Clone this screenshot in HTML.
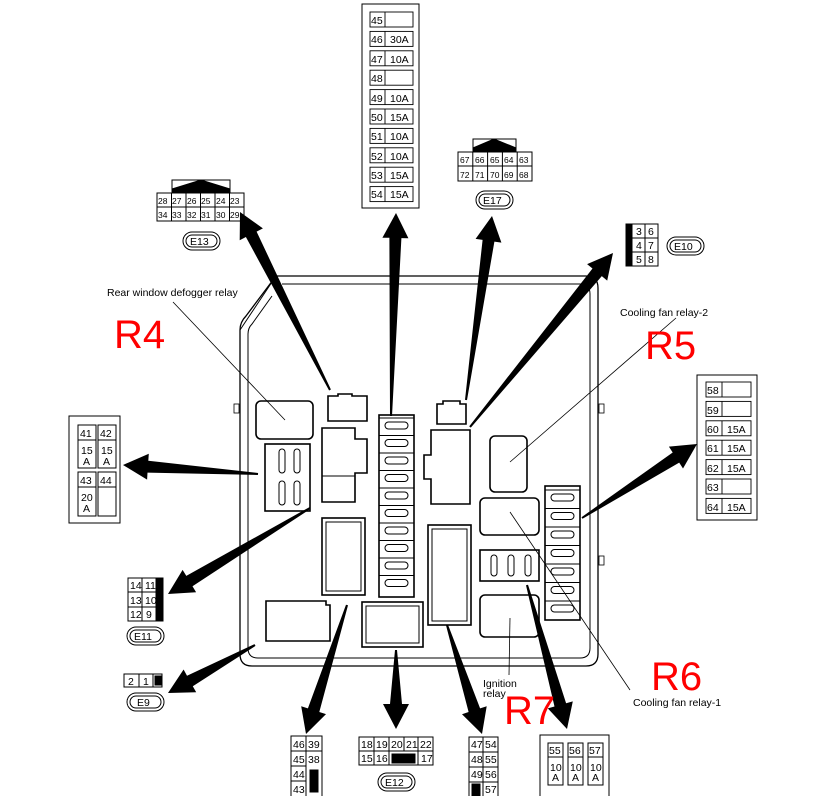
<!DOCTYPE html>
<html><head><meta charset="utf-8"><style>
html,body{margin:0;padding:0;background:#fff}
svg{display:block}
text{font-family:"Liberation Sans",sans-serif;fill:#000}
.s{font-size:10.5px}
.r{font-size:40px;fill:#f00}
</style></head><body>
<svg id="sv" width="817" height="796" viewBox="0 0 817 796" xmlns="http://www.w3.org/2000/svg">
<g fill="none" stroke="#000">
<path d="M276,276 L586,276 Q598,276 598,288 L598,654 Q598,666 586,666 L252,666 Q240,666 240,654 L240,330 Q240,322 246,316 Z" stroke-width="1.3"/>
<path d="M282,284 L580,284 Q590,284 590,294 L590,648 Q590,658 580,658 L258,658 Q248,658 248,648 L248,334 Q248,328 252,324 L272,296" stroke-width="1"/>
<path d="M240,330 L276,276" stroke-width="1"/>
<rect x="234" y="404" width="5" height="9" stroke-width="0.8"/>
<rect x="599" y="404" width="5" height="9" stroke-width="0.8"/>
<rect x="599" y="556" width="5" height="9" stroke-width="0.8"/>
<g stroke-width="1.6">
<rect x="256" y="401" width="57" height="38" rx="5"/>
<path d="M328,396 h10 v-2 h14 v2 h15 v25 h-39 z"/>
<path d="M322,428 h33 v11 h12 v34 h-12 v29 h-33 z"/>
<line x1="322" y1="476" x2="355" y2="476" stroke-width="1"/>
<rect x="265" y="444" width="45" height="67"/>
<rect x="379" y="415" width="35" height="182"/>
<rect x="322" y="518" width="43" height="77"/>
<rect x="326" y="522" width="35" height="69" stroke-width="1"/>
<path d="M266,601 h60 v4 h4 v36 h-64 z"/>
<rect x="362" y="602" width="61" height="45"/>
<rect x="366" y="606" width="53" height="37" stroke-width="1"/>
<path d="M437,404 h6 v-3 h17 v3 h6 v20 h-29 z"/>
<path d="M431,430 h39 v74 h-39 v-25 h-7 v-24 h7 z"/>
<rect x="490" y="436" width="37" height="56" rx="5"/>
<rect x="480" y="498" width="59" height="37" rx="5"/>
<rect x="480" y="550" width="59" height="31"/>
<rect x="480" y="595" width="59" height="42" rx="5"/>
<rect x="545" y="486" width="35" height="134"/>
<rect x="428" y="525" width="43" height="100"/>
<rect x="432" y="529" width="35" height="92" stroke-width="1"/>
</g>
<g stroke-width="1" id="fz"></g>
<g stroke-width="0.8">
<line x1="173" y1="302" x2="285" y2="420"/>
<line x1="676" y1="318" x2="510" y2="462"/>
<line x1="630" y1="690" x2="510" y2="512"/>
<line x1="509" y1="675" x2="510" y2="618"/>
</g>
<rect x="362" y="4" width="57" height="204" stroke-width="1"/>
<g id="tl" stroke-width="0.9"></g>
<rect x="697" y="375" width="60" height="145" stroke-width="1"/>
<g id="rl" stroke-width="0.9"></g>
<rect x="69" y="416" width="51" height="107" stroke-width="1"/>
<rect x="78" y="425" width="18" height="43"/><line x1="78" y1="440" x2="96" y2="440"/>
<rect x="98" y="425" width="18" height="43"/><line x1="98" y1="440" x2="116" y2="440"/>
<rect x="78" y="472" width="18" height="44"/><line x1="78" y1="487" x2="96" y2="487"/>
<rect x="98" y="472" width="18" height="44"/><line x1="98" y1="487" x2="116" y2="487"/>
<path d="M172,192 V180 H230 V192" /><path d="M172,192 L172,189 L201,180 L230,189 L230,192 Z" fill="#000"/>
<rect x="157" y="193" width="87" height="28"/>
<line x1="157" y1="207" x2="244" y2="207"/>
<g id="e13"></g>
<rect x="183" y="232" width="37" height="18" rx="9"/><rect x="186" y="235" width="31" height="12" rx="6"/>
<path d="M473,151 V139 H516 V151"/><path d="M473,151 L473,148 L494,139 L516,148 L516,151 Z" fill="#000"/>
<rect x="458" y="152" width="74" height="29"/>
<line x1="458" y1="166" x2="532" y2="166"/>
<rect x="476" y="191" width="37" height="18" rx="9"/><rect x="479" y="194" width="31" height="12" rx="6"/>
<rect x="626" y="224" width="32" height="42"/>
<rect x="626" y="224" width="6" height="42" fill="#000"/>
<line x1="645" y1="224" x2="645" y2="266"/><line x1="632" y1="238" x2="658" y2="238"/><line x1="632" y1="252" x2="658" y2="252"/>
<rect x="667" y="237" width="37" height="18" rx="9"/><rect x="670" y="240" width="31" height="12" rx="6"/>
<rect x="128" y="578" width="35" height="43"/>
<rect x="156" y="578" width="7" height="43" fill="#000"/>
<line x1="142" y1="578" x2="142" y2="621"/><line x1="128" y1="592" x2="156" y2="592"/><line x1="128" y1="607" x2="156" y2="607"/>
<rect x="127" y="627" width="37" height="18" rx="9"/><rect x="130" y="630" width="31" height="12" rx="6"/>
<rect x="124" y="674" width="38" height="13"/>
<line x1="139" y1="674" x2="139" y2="687"/><line x1="153" y1="674" x2="153" y2="687"/>
<rect x="155" y="676" width="6" height="9" fill="#000"/>
<rect x="127" y="693" width="37" height="18" rx="9"/><rect x="130" y="696" width="31" height="12" rx="6"/>
<rect x="291" y="736" width="31" height="62"/>
<line x1="306" y1="736" x2="306" y2="798"/>
<line x1="291" y1="751" x2="322" y2="751"/><line x1="291" y1="766" x2="306" y2="766"/><line x1="291" y1="781" x2="306" y2="781"/>
<rect x="310" y="770" width="8" height="22" fill="#000"/>
<rect x="359" y="737" width="74" height="28"/>
<line x1="359" y1="751" x2="433" y2="751"/>
<line x1="374" y1="737" x2="374" y2="765"/><line x1="389" y1="737" x2="389" y2="765"/>
<line x1="404" y1="737" x2="404" y2="751"/><line x1="418" y1="737" x2="418" y2="765"/>
<rect x="392" y="754" width="23" height="9" fill="#000"/>
<rect x="378" y="773" width="37" height="18" rx="9"/><rect x="381" y="776" width="31" height="12" rx="6"/>
<rect x="469" y="737" width="29" height="62"/>
<line x1="483" y1="737" x2="483" y2="799"/>
<line x1="469" y1="752" x2="498" y2="752"/><line x1="469" y1="767" x2="498" y2="767"/><line x1="469" y1="782" x2="498" y2="782"/>
<rect x="472" y="784" width="8" height="14" fill="#000"/>
<rect x="540" y="735" width="69" height="64"/>
<rect x="548" y="743" width="15" height="42"/><line x1="548" y1="757" x2="563" y2="757"/>
<rect x="568" y="743" width="15" height="42"/><line x1="568" y1="757" x2="583" y2="757"/>
<rect x="588" y="743" width="15" height="42"/><line x1="588" y1="757" x2="603" y2="757"/>
</g>
<g id="ar" fill="#000"></g>
<g class="s">
<text x="107" y="296">Rear window defogger relay</text>
<text x="620" y="316">Cooling fan relay-2</text>
<text x="633" y="706">Cooling fan relay-1</text>
<text x="483" y="687">Ignition</text><text x="483" y="697">relay</text>
<text x="371" y="24">45</text>
<text x="371" y="43">46</text><text x="390" y="43">30A</text>
<text x="371" y="63">47</text><text x="390" y="63">10A</text>
<text x="371" y="82">48</text>
<text x="371" y="102">49</text><text x="390" y="102">10A</text>
<text x="371" y="121">50</text><text x="390" y="121">15A</text>
<text x="371" y="140">51</text><text x="390" y="140">10A</text>
<text x="371" y="160">52</text><text x="390" y="160">10A</text>
<text x="371" y="179">53</text><text x="390" y="179">15A</text>
<text x="371" y="198">54</text><text x="390" y="198">15A</text>
<text x="707" y="394">58</text>
<text x="707" y="414">59</text>
<text x="707" y="433">60</text><text x="727" y="433">15A</text>
<text x="707" y="452">61</text><text x="727" y="452">15A</text>
<text x="707" y="472">62</text><text x="727" y="472">15A</text>
<text x="707" y="491">63</text>
<text x="707" y="511">64</text><text x="727" y="511">15A</text>
<text x="80" y="437">41</text><text x="100" y="437">42</text>
<text x="81" y="454">15</text><text x="83" y="465">A</text>
<text x="101" y="454">15</text><text x="103" y="465">A</text>
<text x="80" y="484">43</text><text x="100" y="484">44</text>
<text x="81" y="501">20</text><text x="83" y="512">A</text>
<text x="190" y="245">E13</text><text x="483" y="204">E17</text><text x="674" y="250">E10</text>
<text x="134" y="640">E11</text><text x="137" y="706">E9</text><text x="385" y="786">E12</text>
<text x="636" y="235">3</text><text x="648" y="235">6</text>
<text x="636" y="249">4</text><text x="648" y="249">7</text>
<text x="636" y="263">5</text><text x="648" y="263">8</text>
<text x="130" y="589">14</text><text x="145" y="589">11</text>
<text x="130" y="604">13</text><text x="145" y="604">10</text>
<text x="130" y="618">12</text><text x="146" y="618">9</text>
<text x="128" y="685">2</text><text x="143" y="685">1</text>
<text x="293" y="748">46</text><text x="308" y="748">39</text>
<text x="293" y="763">45</text><text x="308" y="763">38</text>
<text x="293" y="778">44</text><text x="293" y="793">43</text>
<text x="361" y="748">18</text><text x="376" y="748">19</text><text x="391" y="748">20</text><text x="406" y="748">21</text><text x="420" y="748">22</text>
<text x="361" y="762">15</text><text x="376" y="762">16</text><text x="421" y="762">17</text>
<text x="471" y="748">47</text><text x="485" y="748">54</text>
<text x="471" y="763">48</text><text x="485" y="763">55</text>
<text x="471" y="778">49</text><text x="485" y="778">56</text>
<text x="485" y="793">57</text>
<text x="549" y="754">55</text><text x="569" y="754">56</text><text x="589" y="754">57</text>
<text x="550" y="771">10</text><text x="552" y="781">A</text>
<text x="570" y="771">10</text><text x="572" y="781">A</text>
<text x="590" y="771">10</text><text x="592" y="781">A</text>
</g>
<g style="font-size:8.5px">
<text x="158" y="204">28</text><text x="172" y="204">27</text><text x="187" y="204">26</text><text x="201" y="204">25</text><text x="216" y="204">24</text><text x="230" y="204">23</text>
<text x="158" y="218">34</text><text x="172" y="218">33</text><text x="187" y="218">32</text><text x="201" y="218">31</text><text x="216" y="218">30</text><text x="230" y="218">29</text>
<text x="460" y="163">67</text><text x="475" y="163">66</text><text x="490" y="163">65</text><text x="504" y="163">64</text><text x="519" y="163">63</text>
<text x="460" y="178">72</text><text x="475" y="178">71</text><text x="490" y="178">70</text><text x="504" y="178">69</text><text x="519" y="178">68</text>
</g>
<text class="r" x="114" y="348">R4</text>
<text class="r" x="645" y="359">R5</text>
<text class="r" x="651" y="690">R6</text>
<text class="r" x="504" y="724">R7</text>
</svg>
<script>
var NS="http://www.w3.org/2000/svg";
function el(p,t,a){var e=document.createElementNS(NS,t);for(var k in a)e.setAttribute(k,a[k]);document.getElementById(p).appendChild(e);return e;}
for(var i=0;i<10;i++){var y=12+i*19.4;el('tl','rect',{x:370,y:y,width:43,height:15});el('tl','line',{x1:385,y1:y,x2:385,y2:y+15});}
for(var i=0;i<7;i++){var y=382+i*19.4;el('rl','rect',{x:706,y:y,width:45,height:15});el('rl','line',{x1:722,y1:y,x2:722,y2:y+15});}
for(var i=1;i<6;i++){el('e13','line',{x1:157+i*14.5,y1:193,x2:157+i*14.5,y2:221});}
for(var i=1;i<5;i++){el('fz','line',{x1:458+i*14.8,y1:152,x2:458+i*14.8,y2:181});}
function slots(x,y0,n,p,w){for(var i=0;i<n;i++){var y=y0+i*p;el('fz','line',{x1:x,y1:y,x2:x+w,y2:y});el('fz','rect',{x:x+6,y:y+4,width:w-12,height:7,rx:3.5});}}
slots(379,418,10,17.5,35);slots(545,490,7,18.5,35);
function vslots(x0,y,n,p,h){for(var i=0;i<n;i++){var x=x0+i*p;el('fz','rect',{x:x+4,y:y+3,width:6,height:h-6,rx:3});}}
vslots(275,446,2,15,30);vslots(275,478,2,15,30);vslots(487,552,3,17,27);
var A=[[330,390,240,212],[391,416,396,213],[466,400,492,216],[470,427,613,253],[582,518,697,444],[258,474,123,465],[310,508,168,594],[255,645,168,693],[347,605,306,734],[396,650,396,729],[447,625,482,734],[527,585,567,729]];
A.forEach(function(a){var dx=a[2]-a[0],dy=a[3]-a[1],L=Math.hypot(dx,dy),ux=dx/L,uy=dy/L,nx=-uy,ny=ux;
var hx=a[2]-ux*25,hy=a[3]-uy*25;
var pts=[[a[0]+nx*1,a[1]+ny*1],[hx+nx*6,hy+ny*6],[hx+nx*13,hy+ny*13],[a[2],a[3]],[hx-nx*13,hy-ny*13],[hx-nx*6,hy-ny*6],[a[0]-nx*1,a[1]-ny*1]];
el('ar','polygon',{points:pts.map(function(p){return p[0].toFixed(1)+','+p[1].toFixed(1)}).join(' ')});});
</script>
</body></html>
